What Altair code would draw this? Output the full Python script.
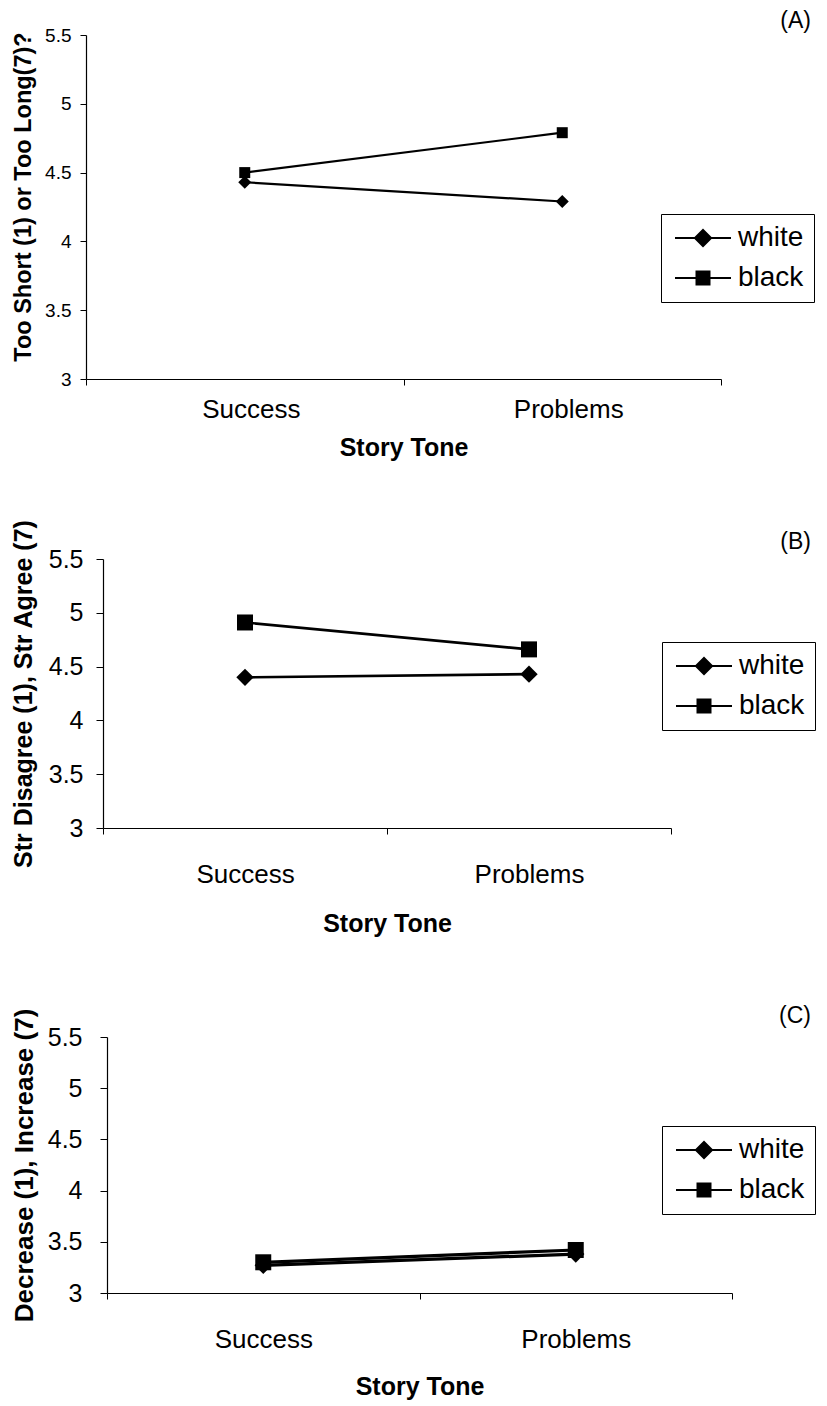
import altair as alt
import pandas as pd

# ---- data ----
tones = ["Success", "Problems"]
races = ["white", "black"]

a_white = [4.43, 4.29]
a_black = [4.50, 4.79]
b_white = [4.40, 4.43]
b_black = [4.91, 4.66]
c_white = [3.27, 3.38]
c_black = [3.30, 3.42]

y_ticks = [3, 3.5, 4, 4.5, 5, 5.5]

panel_labels = ["(A)", "(B)", "(C)"]
y_titles = [
    "Too Short (1) or Too Long(7)?",
    "Str Disagree (1), Str Agree (7)",
    "Decrease (1), Increase (7)",
]
x_title = "Story Tone"

FONT = "Liberation Sans"
W, H = 810, 1392  # whole drawing; the three panels are placed inside it

# legend glyphs: a short line with the marker on it (unit = sqrt(symbolSize)/2 px)
DIAMOND_LEG = ("M-1,-0.11L4.6,-0.11L4.6,0.11L-1,0.11Z"
               "M1.8,-0.95L2.75,0L1.8,0.95L0.85,0Z")
SQUARE_LEG = ("M-1,-0.11L4.6,-0.11L4.6,0.11L-1,0.11Z"
              "M1.05,-0.75L2.55,-0.75L2.55,0.75L1.05,0.75Z")


def frame(white, black):
    rows = []
    for t, w, b in zip(tones, white, black):
        rows.append({"tone": t, "race": "white", "value": w})
        rows.append({"tone": t, "race": "black", "value": b})
    return pd.DataFrame(rows)


def panel(df, label, ytitle, p):
    base = alt.Chart(df)
    x = alt.X(
        "tone:N",
        sort=tones,
        scale=alt.Scale(range=[p["x0"], p["x1"]], paddingInner=0, paddingOuter=0),
        axis=alt.Axis(
            orient="bottom",
            offset=p["y1"] - H,
            title=x_title,
            labelAngle=0,
            tickBand="extent",
            tickSize=6,
            labelFontSize=26,
            labelBaseline="alphabetic",
            labelPadding=p["xlabpad"],
            labelOffset=p["xlaboff"],
            titleFontSize=25,
            titleFontWeight="bold",
            titleBaseline="alphabetic",
            titleY=p["xtitley"],
        ),
    )
    y = alt.Y(
        "value:Q",
        scale=alt.Scale(domain=[3, 5.5], nice=False, zero=False,
                        range=[p["y1"], p["y0"]]),
        axis=alt.Axis(
            orient="left",
            offset=-p["x0"],
            title=ytitle,
            values=y_ticks,
            format="~g",
            tickSize=p["ytick"],
            labelFontSize=p["ylabfs"],
            labelPadding=p["ylabpad"],
            titleFontSize=p["ytitlefs"],
            titleFontWeight="bold",
            titleBaseline="alphabetic",
            titleX=p["ytb"] - p["x0"],
            titleY=p["ytc"],
        ),
    )
    lines = base.mark_line(color="black", strokeWidth=p["lw"]).encode(
        x=x, y=y, detail="race:N"
    )
    white_pts = (
        base.transform_filter(alt.datum.race == "white")
        .mark_point(shape="diamond", filled=True, color="black", opacity=1,
                    size=p["dsize"], strokeWidth=0)
        .encode(x=x, y=y)
    )
    black_pts = (
        base.transform_filter(alt.datum.race == "black")
        .mark_point(shape="square", filled=True, color="black", opacity=1,
                    size=p["ssize"], strokeWidth=0)
        .encode(x=x, y=y)
    )
    legend_layer = base.mark_point(opacity=0, filled=True, color="black").encode(
        x=x,
        y=y,
        shape=alt.Shape(
            "race:N",
            sort=races,
            scale=alt.Scale(domain=races, range=[DIAMOND_LEG, SQUARE_LEG]),
            legend=alt.Legend(
                title=None,
                orient="none",
                legendX=p["legx"],
                legendY=p["legy"],
                strokeColor="black",
                fillColor="white",
                padding=10,
                rowPadding=12,
                cornerRadius=0,
                labelFont=FONT,
                labelFontSize=28,
                labelColor="black",
                labelOffset=39,
                labelLimit=300,
                symbolSize=400,
                symbolStrokeWidth=0,
                symbolFillColor="black",
                symbolOpacity=1,
            ),
        ),
    )
    tag = (
        alt.Chart(pd.DataFrame({"label": [label]}))
        .mark_text(font=FONT, fontSize=23, align="right", baseline="alphabetic",
                   color="black")
        .encode(text="label:N", x=alt.value(p["tagx"]), y=alt.value(p["tagy"]))
    )
    return alt.layer(lines, white_pts, black_pts, legend_layer, tag)


pA = dict(x0=78, x1=713, y0=27, y1=371, xlabpad=32, xlaboff=6, xtitley=76,
          ytick=6, ylabfs=19, ylabpad=9, ytitlefs=23.5, ytb=22, ytc=188.5,
          lw=2.2, dsize=169, ssize=121, legx=653, legy=206, tagx=803, tagy=20)
pB = dict(x0=95, x1=663, y0=551, y1=820, xlabpad=48, xlaboff=0, xtitley=103,
          ytick=7, ylabfs=25, ylabpad=13, ytitlefs=25, ytb=23, ytc=685.5,
          lw=2.6, dsize=300, ssize=256, legx=654, legy=634, tagx=803, tagy=541)
pC = dict(x0=99, x1=724, y0=1029, y1=1285, xlabpad=48, xlaboff=0, xtitley=101,
          ytick=7, ylabfs=25, ylabpad=18, ytitlefs=26, ytb=24, ytc=1157,
          lw=3.2, dsize=300, ssize=256, legx=654, legy=1118, tagx=803, tagy=1015)

chA = panel(frame(a_white, a_black), panel_labels[0], y_titles[0], pA)
chB = panel(frame(b_white, b_black), panel_labels[1], y_titles[1], pB)
chC = panel(frame(c_white, c_black), panel_labels[2], y_titles[2], pC)

chart = (
    alt.layer(chA, chB, chC)
    .resolve_scale(x="independent", y="independent", shape="independent")
    .properties(width=W, height=H, padding=0,
                autosize=alt.AutoSizeParams(type="none"))
    .configure(font=FONT)
    .configure_view(stroke=None)
    .configure_axis(
        grid=False,
        domainColor="black",
        tickColor="black",
        labelColor="black",
        titleColor="black",
        labelFont=FONT,
        titleFont=FONT,
        domainWidth=1.2,
    )
)

chart.save("out.html", embed_options={"renderer": "svg", "actions": False})
